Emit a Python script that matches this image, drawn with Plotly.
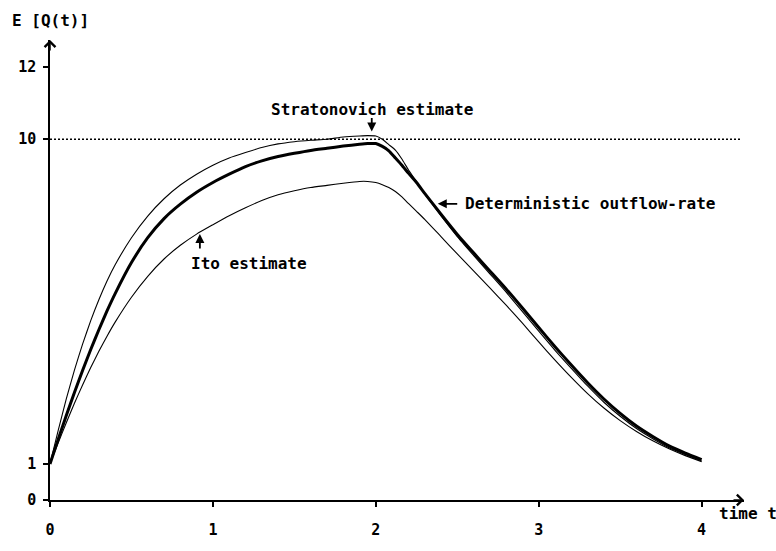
import numpy as np
import plotly.graph_objects as go

# time grid and the three outflow curves
t = [0, 0.05, 0.1, 0.15, 0.2, 0.25, 0.3, 0.35, 0.4, 0.5, 0.6, 0.7, 0.8, 0.9,
     1.0, 1.1, 1.2, 1.3, 1.4, 1.5, 1.6, 1.7, 1.8, 1.9, 1.95, 2.0, 2.04, 2.08,
     2.12, 2.16, 2.2, 2.25, 2.3, 2.4, 2.5, 2.6, 2.7, 2.8, 2.9, 3.0, 3.1, 3.2,
     3.3, 3.4, 3.5, 3.6, 3.7, 3.8, 3.9, 4.0]

deterministic = [1.0, 1.68, 2.34, 2.98, 3.59, 4.17, 4.72, 5.24, 5.72, 6.58, 7.27,
                 7.8, 8.2, 8.53, 8.8, 9.03, 9.24, 9.4, 9.52, 9.61, 9.69,
                 9.75, 9.81, 9.86, 9.88, 9.88, 9.8, 9.68, 9.48, 9.28, 9.06,
                 8.8, 8.5, 7.92, 7.36, 6.85, 6.35, 5.85, 5.32, 4.78, 4.25,
                 3.74, 3.25, 2.8, 2.4, 2.05, 1.76, 1.5, 1.3, 1.12]

stratonovich = [1.0, 1.92, 2.8, 3.6, 4.32, 4.97, 5.55, 6.07, 6.52, 7.27, 7.87,
                8.35, 8.73, 9.03, 9.28, 9.48, 9.63, 9.77, 9.87, 9.93, 9.97,
                10.0, 10.06, 10.09, 10.1, 10.09, 10.0, 9.85, 9.7, 9.45, 9.15,
                8.82, 8.48, 7.88, 7.3, 6.78, 6.27, 5.76, 5.22, 4.68, 4.15,
                3.65, 3.16, 2.71, 2.32, 1.98, 1.7, 1.45, 1.26, 1.08]

ito = [1.0, 1.58, 2.14, 2.68, 3.19, 3.67, 4.12, 4.54, 4.93, 5.62, 6.2, 6.68, 7.06,
       7.37, 7.63, 7.88, 8.1, 8.3, 8.46, 8.57, 8.66, 8.72, 8.78, 8.83, 8.83,
       8.8, 8.74, 8.66, 8.55, 8.4, 8.22, 8.0, 7.78, 7.3, 6.82, 6.35, 5.88,
       5.4, 4.9, 4.38, 3.88, 3.4, 2.95, 2.55, 2.2, 1.9, 1.64, 1.42, 1.23, 1.06]

x_ticks = [0, 1, 2, 3, 4]
y_ticks = [0, 1, 10, 12]
capacity = 10

FONT = dict(family="DejaVu Sans Mono", size=16, color="black", weight="bold")
TICK_FONT = dict(family="DejaVu Sans Mono", size=15, color="black", weight="bold")

fig = go.Figure()
fig.add_trace(go.Scatter(x=t, y=stratonovich, mode="lines",
                         line=dict(color="black", width=1.1, shape="spline", smoothing=0.5)))
fig.add_trace(go.Scatter(x=t, y=ito, mode="lines",
                         line=dict(color="black", width=1.1, shape="spline", smoothing=0.5)))
fig.add_trace(go.Scatter(x=t, y=deterministic, mode="lines",
                         line=dict(color="black", width=3, shape="spline", smoothing=0.5)))

# dotted capacity level
fig.add_shape(type="line", x0=0, x1=4.24, y0=capacity, y1=capacity,
              line=dict(color="black", width=1.5, dash="2px,2px"))

# axis arrowheads
fig.add_annotation(x=0, y=12.75, ax=0, ay=12, showarrow=True, text="",
                   arrowhead=4, arrowsize=1.4, arrowwidth=1.5, arrowcolor="black")
fig.add_annotation(x=4.26, y=0, ax=-12, ay=0, showarrow=True, text="",
                   arrowhead=4, arrowsize=1.4, arrowwidth=1.5, arrowcolor="black")

# Stratonovich label with arrow
t_s = 1.975
fig.add_annotation(x=t_s, y=float(np.interp(t_s, t, stratonovich)) + 0.12,
                   ax=0, ay=-15, showarrow=True, text="",
                   arrowhead=2, arrowsize=1, arrowwidth=1.8, arrowcolor="black")
fig.add_annotation(x=t_s, y=10.82, text="Stratonovich estimate", showarrow=False,
                   font=FONT, xanchor="center", yanchor="middle")

# Ito label with arrow
t_i = 0.92
fig.add_annotation(x=t_i, y=float(np.interp(t_i, t, ito)) - 0.05,
                   ax=0, ay=16, showarrow=True, text="",
                   arrowhead=2, arrowsize=1, arrowwidth=1.8, arrowcolor="black")
fig.add_annotation(x=0.853, y=6.56, text="Ito estimate", showarrow=False,
                   font=FONT, xanchor="left", yanchor="middle")

# Deterministic label with arrow
y_d = 8.21
idx = slice(t.index(2.0), None)
t_d = float(np.interp(y_d, deterministic[idx][::-1], t[idx][::-1])) + 0.03
fig.add_annotation(x=t_d, y=y_d, ax=21, ay=0, showarrow=True, text="",
                   arrowhead=2, arrowsize=1, arrowwidth=1.8, arrowcolor="black")
fig.add_annotation(x=2.534, y=y_d, text="Deterministic outflow-rate", showarrow=False,
                   font=FONT, xanchor="left", yanchor="middle")

# axis titles
fig.add_annotation(xref="paper", yref="paper", x=-0.058, y=1.0415,
                   text="E [Q(t)]", showarrow=False, font=FONT,
                   xanchor="left", yanchor="middle")
fig.add_annotation(xref="paper", yref="paper", x=0.961, y=-0.029,
                   text="time t", showarrow=False, font=FONT,
                   xanchor="left", yanchor="middle")

fig.update_layout(
    width=776, height=551,
    margin=dict(l=50, r=32, t=40, b=29),
    paper_bgcolor="white", plot_bgcolor="white",
    showlegend=False,
    xaxis=dict(range=[0, 4.26], tickvals=x_ticks, ticktext=[str(v) for v in x_ticks],
               showgrid=False, zeroline=False, showline=True, linecolor="black",
               linewidth=1.5, ticks="outside", ticklen=5, tickwidth=1.5,
               tickcolor="black", tickfont=TICK_FONT, ticklabelstandoff=10),
    yaxis=dict(range=[0, 12.75], tickvals=y_ticks, ticktext=[str(v) for v in y_ticks],
               showgrid=False, zeroline=False, showline=True, linecolor="black",
               linewidth=1.5, ticks="outside", ticklen=5, tickwidth=1.5,
               tickcolor="black", tickfont=TICK_FONT, ticklabelstandoff=4),
)

fig.write_html("out.html")
